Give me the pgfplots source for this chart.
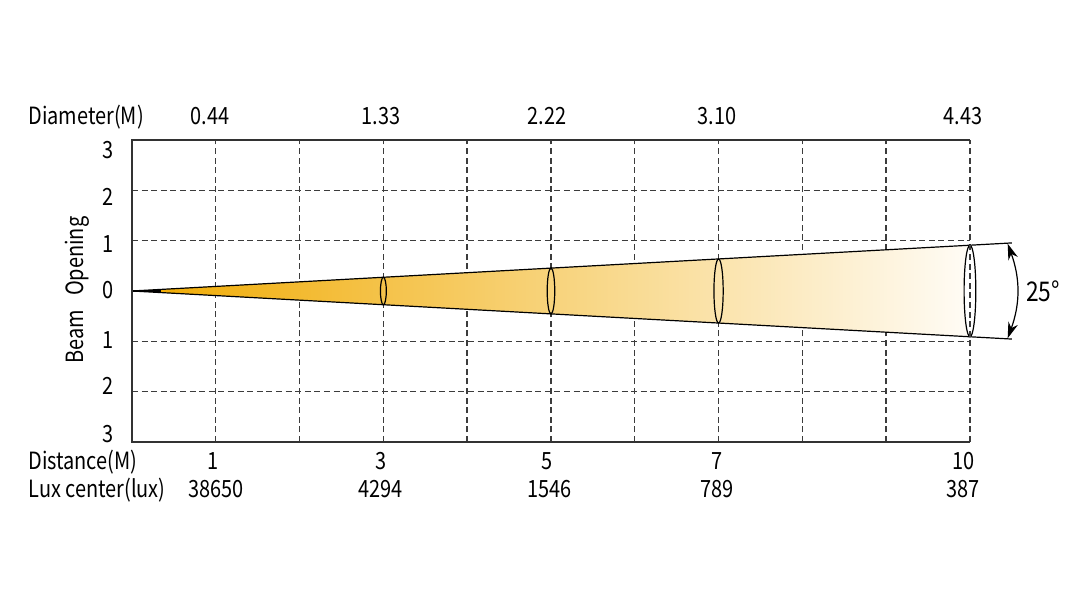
\documentclass[border=0pt]{standalone}
\usepackage{fontspec}
\setmainfont{Noto Sans CJK SC}
\usepackage{graphicx}
\usepackage{pgfplots}
\pgfplotsset{compat=1.18}
\usetikzlibrary{arrows.meta}
\definecolor{gridgray}{RGB}{60,60,60}
\definecolor{framegray}{RGB}{50,50,50}
\definecolor{beamA}{RGB}{240,170,0}
\definecolor{beamB}{RGB}{245,206,95}
\definecolor{beamC}{RGB}{255,252,246}
% the reference lettering is a little narrower and taller than the font
\newcommand{\T}[1]{\scalebox{0.95}[1.13]{#1}}
\begin{document}
\begin{tikzpicture}
\begin{axis}[
    scale only axis,
    width=419pt, height=151pt,
    xmin=0, xmax=10, ymin=-3, ymax=3,
    xtick={1,...,10}, ytick={-3,...,3},
    xticklabels={}, yticklabels={},
    major tick length=0pt,
    grid=major,
    major grid style={gridgray, line width=0.7pt, dash pattern=on 3pt off 1.8pt},
    axis line style={draw=none},
    clip=false,
    font=\fontsize{10.5}{12}\selectfont,
]
% beam cone, golden to white
\addplot[draw=none, left color=beamA, middle color=beamB, right color=beamC]
    coordinates {(0,0) (10,0.91) (10,-0.91)} -- cycle;
\addplot[black, line width=0.6pt] coordinates {(0,0) (10.5,0.955)};
\addplot[black, line width=0.6pt] coordinates {(0,0) (10.5,-0.955)};
\addplot[black, line width=0.6pt] coordinates {(0,0) (0.35,0)};

% cross sections
\draw[black, line width=0.6pt] (axis cs:3,0) ellipse [x radius=0.035, y radius=0.273];
\draw[black, line width=0.6pt] (axis cs:5,0) ellipse [x radius=0.045, y radius=0.455];
\draw[black, line width=0.6pt] (axis cs:7,0) ellipse [x radius=0.055, y radius=0.637];
\draw[black, line width=0.6pt, fill=white] (axis cs:10,0) ellipse [x radius=0.07, y radius=0.91];
\draw[gridgray, line width=0.7pt, dash pattern=on 3pt off 1.8pt] (axis cs:10,-0.91) -- (axis cs:10,0.91);

% frame: left, top, bottom solid
\draw[framegray, line width=0.7pt] (rel axis cs:1,1) -- (rel axis cs:0,1) -- (rel axis cs:0,0) -- (rel axis cs:1,0);

% beam angle
\draw[{Stealth[length=8pt,width=5pt]}-{Stealth[length=8pt,width=5pt]}, line width=0.6pt]
    (axis cs:10.45,0.94) to[bend left=20] (axis cs:10.45,-0.94);
\node at (axis cs:10.87,0) {\T{\fontsize{12}{14}\selectfont 25°}};

% top labels
\node[anchor=base west, inner sep=0pt] at (rel axis cs:-0.1241,1) [yshift=7.5pt] {\T{Diameter(M)}};
\node[anchor=base] at (axis cs:0.93,3)  [yshift=7.5pt] {\T{0.44}};
\node[anchor=base] at (axis cs:2.97,3)  [yshift=7.5pt] {\T{1.33}};
\node[anchor=base] at (axis cs:4.95,3)  [yshift=7.5pt] {\T{2.22}};
\node[anchor=base] at (axis cs:6.98,3)  [yshift=7.5pt] {\T{3.10}};
\node[anchor=base] at (axis cs:9.92,3)  [yshift=7.5pt] {\T{4.43}};

% bottom labels
\node[anchor=base west, inner sep=0pt] at (rel axis cs:-0.1241,0) [yshift=-14pt] {\T{Distance(M)}};
\node[anchor=base west, inner sep=0pt] at (rel axis cs:-0.1241,0) [yshift=-28pt] {\T{Lux center(lux)}};
\node[anchor=base] at (axis cs:0.97,-3) [yshift=-14pt] {\T{1}};
\node[anchor=base] at (axis cs:2.97,-3) [yshift=-14pt] {\T{3}};
\node[anchor=base] at (axis cs:4.95,-3) [yshift=-14pt] {\T{5}};
\node[anchor=base] at (axis cs:6.98,-3) [yshift=-14pt] {\T{7}};
\node[anchor=base] at (axis cs:9.92,-3) [yshift=-14pt] {\T{10}};
\node[anchor=base] at (axis cs:1.0,-3)  [yshift=-28pt] {\T{38650}};
\node[anchor=base] at (axis cs:2.97,-3) [yshift=-28pt] {\T{4294}};
\node[anchor=base] at (axis cs:4.98,-3) [yshift=-28pt] {\T{1546}};
\node[anchor=base] at (axis cs:6.98,-3) [yshift=-28pt] {\T{789}};
\node[anchor=base] at (axis cs:9.92,-3) [yshift=-28pt] {\T{387}};

% beam opening scale
\node[anchor=east] at (axis cs:0,2.80)  [xshift=-5.5pt] {\T{3}};
\node[anchor=east] at (axis cs:0,1.86)  [xshift=-5.5pt] {\T{2}};
\node[anchor=east] at (axis cs:0,0.93)  [xshift=-5.5pt] {\T{1}};
\node[anchor=east] at (axis cs:0,0.02)  [xshift=-5.5pt] {\T{0}};
\node[anchor=east] at (axis cs:0,-0.97) [xshift=-5.5pt] {\T{1}};
\node[anchor=east] at (axis cs:0,-1.89) [xshift=-5.5pt] {\T{2}};
\node[anchor=east] at (axis cs:0,-2.85) [xshift=-5.5pt] {\T{3}};
\node[rotate=90] at (rel axis cs:-0.0656,0.503) {\T{Beam\hspace{0.7em}Opening}};

% page size
\path (rel axis cs:-0.1575,-0.5232) rectangle (rel axis cs:1.1158,1.4636);
\end{axis}
\end{tikzpicture}
\end{document}
